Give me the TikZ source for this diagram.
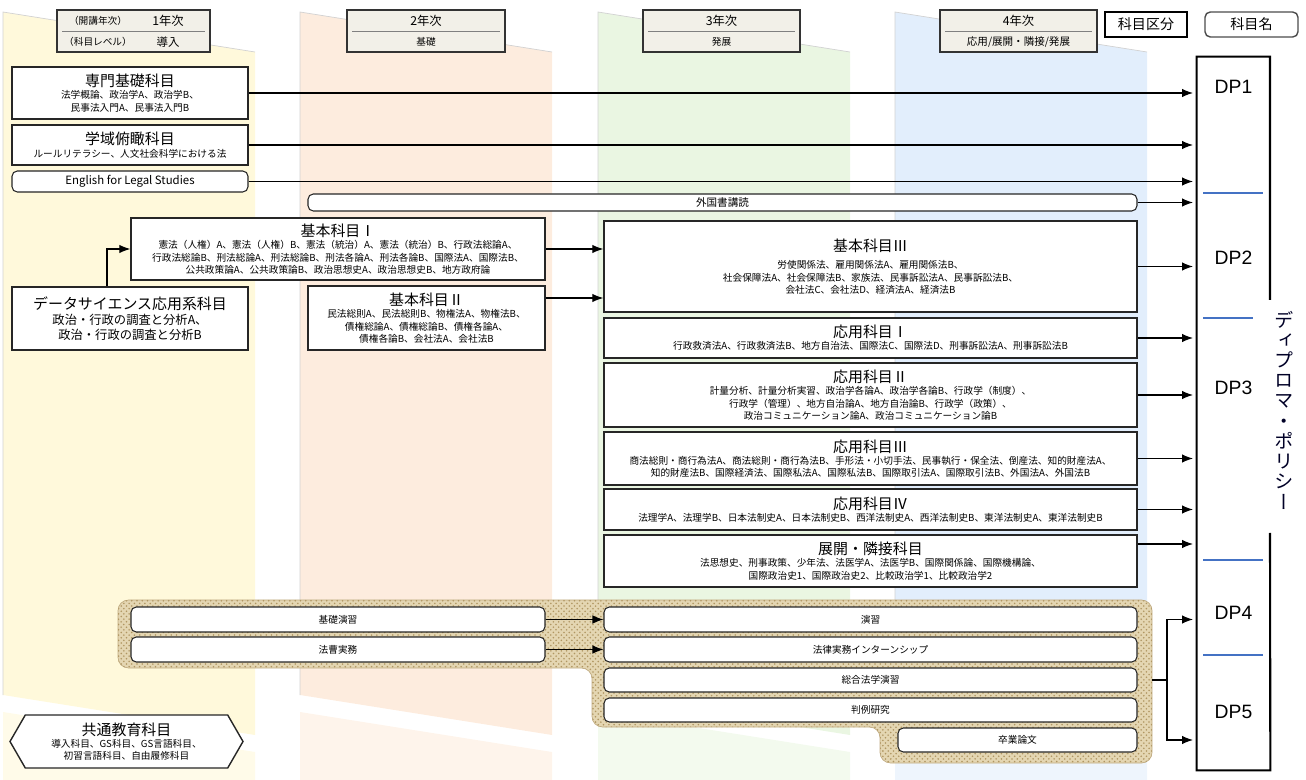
\documentclass[tikz,border=0pt]{standalone}
\usepackage{fontspec}
\setmainfont{Noto Sans CJK JP}
\newfontfamily\dpfont{Liberation Sans}
\newfontfamily\vjp[RawFeature=+vert]{Noto Sans CJK JP}
\usetikzlibrary{positioning,shapes.symbols,patterns,arrows.meta}

\newlength\px
\setlength\px{0.02cm}
\newcommand{\ttl}[1]{{\fontsize{8.5}{9}\selectfont #1}}

\definecolor{bandY}{RGB}{255,249,219}
\definecolor{bandO}{RGB}{253,236,222}
\definecolor{bandG}{RGB}{234,246,226}
\definecolor{bandB}{RGB}{226,238,252}
\definecolor{headfill}{RGB}{242,240,232}
\definecolor{dpblue}{RGB}{68,114,196}
\definecolor{hatchbg}{RGB}{228,214,178}
\definecolor{hatchfg}{RGB}{176,150,98}

\tikzset{
	subj/.style = {draw = black!85, thick, fill = white, align = center, inner sep = 1pt,
		font = \fontsize{5.5}{7}\selectfont},
	subjr/.style = {subj, semithick, rounded corners = 3pt},
	head/.style = {draw = black!80, thick, fill = headfill},
	headtxt/.style = {font = \fontsize{5.5}{6}\selectfont},
	arr/.style = {-{Latex[length = 2.2mm, width = 1.7mm]}, semithick},
	dp/.style = {font = \dpfont\fontsize{11}{11}\selectfont},
	sep/.style = {dpblue, line width = 1.6pt},
	band/.style = {draw = gray!35, thin},
}

\begin{document}
\begin{tikzpicture}[x = 0.02cm, y = -0.02cm]
\useasboundingbox (0,0) rectangle (1306,780);

% year columns
\foreach \x/\col in {3/bandY, 300/bandO, 598/bandG, 895/bandB}
{
	\fill[\col] (\x,12) -- (\x+252,52) -- (\x+252,735) -- (\x,695) -- cycle;
	\fill[\col!60] (\x,712) -- (\x+252,752) -- (\x+252,780) -- (\x,780) -- cycle;
	\draw[band] (\x,695) -- (\x,12) -- (\x+252,52);
}

% headers
\node[head, minimum width = 153*\px, minimum height = 42*\px] (year1) at (133.5,31) {};
\draw[gray] ([xshift = 6*\px]year1.west) -- ([xshift = -6*\px]year1.east);
\node[headtxt] (lbl1a) at (98,21) {（開講年次）};
\node[headtxt, font = \fontsize{7}{7}\selectfont] (lbl1b) at (168,21) {1年次};
\node[headtxt] (lbl1c) at (98,42) {（科目レベル）};
\node[headtxt, font = \fontsize{6.5}{7}\selectfont] (lbl1d) at (168,42) {導入};

\node[head, minimum width = 158*\px, minimum height = 42*\px] (year2) at (426,31) {};
\draw[gray] ([xshift = 6*\px]year2.west) -- ([xshift = -6*\px]year2.east);
\node[headtxt, font = \fontsize{7}{7}\selectfont] (lbl2a) at (426,21) {2年次};
\node[headtxt] (lbl2b) at (426,42) {基礎};

\node[head, minimum width = 157*\px, minimum height = 42*\px] (year3) at (721.5,31) {};
\draw[gray] ([xshift = 6*\px]year3.west) -- ([xshift = -6*\px]year3.east);
\node[headtxt, font = \fontsize{7}{7}\selectfont] (lbl3a) at (721.5,21) {3年次};
\node[headtxt] (lbl3b) at (721.5,42) {発展};

\node[head, minimum width = 157*\px, minimum height = 42*\px] (year4) at (1018.5,31) {};
\draw[gray] ([xshift = 6*\px]year4.west) -- ([xshift = -6*\px]year4.east);
\node[headtxt, font = \fontsize{7}{7}\selectfont] (lbl4a) at (1018.5,21) {4年次};
\node[headtxt, font = \fontsize{6}{6}\selectfont] (lbl4b) at (1018.5,42) {応用/展開・隣接/発展};

\node[draw, thick, minimum width = 82*\px, minimum height = 25*\px, font = \fontsize{8}{8}\selectfont] (kubun) at (1146,24.5) {科目区分};
\node[draw = black!70, thick, rounded corners = 3pt, minimum width = 93*\px, minimum height = 25*\px, font = \fontsize{8}{8}\selectfont] (kamoku) at (1251.5,24.5) {科目名};

% seminar group
\filldraw[fill = hatchbg, draw = hatchfg!80, rounded corners = 6pt,
	postaction = {pattern = crosshatch dots, pattern color = hatchfg}]
	(118,600) -- (1152,600) -- (1152,763) -- (880,763) -- (880,727) -- (592,727) -- (592,668) -- (118,668) -- cycle;

% subjects
\node[subj, minimum width = 236*\px, minimum height = 52*\px] (senmon) at (130,93)
	{\ttl{専門基礎科目}\\ 法学概論、政治学A、政治学B、\\ 民事法入門A、民事法入門B};
\node[subj, minimum width = 236*\px, minimum height = 40*\px] (gakuiki) at (130,145)
	{\ttl{学域俯瞰科目}\\ ルールリテラシー、人文社会科学における法};
\node[subjr, minimum width = 236*\px, minimum height = 21*\px, font = \fontsize{6.5}{7}\selectfont] (english) at (130,181.5)
	{English for Legal Studies};
\node[subjr, minimum width = 829*\px, minimum height = 17*\px, font = \fontsize{6}{7}\selectfont] (gaikoku) at (722.5,202.5)
	{外国書講読};
\node[subj, minimum width = 414*\px, minimum height = 62*\px] (kihon1) at (338,249)
	{\ttl{基本科目Ⅰ}\\ 憲法（人権）A、憲法（人権）B、憲法（統治）A、憲法（統治）B、行政法総論A、\\
	行政法総論B、刑法総論A、刑法総論B、刑法各論A、刑法各論B、国際法A、国際法B、\\
	公共政策論A、公共政策論B、政治思想史A、政治思想史B、地方政府論};
\node[subj, minimum width = 236*\px, minimum height = 63*\px, font = \fontsize{7}{8.5}\selectfont] (datasci) at (130,318.5)
	{\ttl{データサイエンス応用系科目}\\ 政治・行政の調査と分析A、\\ 政治・行政の調査と分析B};
\node[subj, minimum width = 237*\px, minimum height = 64*\px] (kihon2) at (426.5,318)
	{\ttl{基本科目Ⅱ}\\ 民法総則A、民法総則B、物権法A、物権法B、\\ 債権総論A、債権総論B、債権各論A、\\ 債権各論B、会社法A、会社法B};
\node[subj, minimum width = 533*\px, minimum height = 91*\px] (kihon3) at (870.5,266.5)
	{\ttl{基本科目Ⅲ}\\[3pt] 労使関係法、雇用関係法A、雇用関係法B、\\
	社会保障法A、社会保障法B、家族法、民事訴訟法A、民事訴訟法B、\\ 会社法C、会社法D、経済法A、経済法B};
\node[subj, minimum width = 533*\px, minimum height = 40*\px] (ouyou1) at (870.5,338)
	{\ttl{応用科目Ⅰ}\\ 行政救済法A、行政救済法B、地方自治法、国際法C、国際法D、刑事訴訟法A、刑事訴訟法B};
\node[subj, minimum width = 533*\px, minimum height = 64*\px] (ouyou2) at (870.5,395)
	{\ttl{応用科目Ⅱ}\\ 計量分析、計量分析実習、政治学各論A、政治学各論B、行政学（制度）、\\
	行政学（管理）、地方自治論A、地方自治論B、行政学（政策）、\\ 政治コミュニケーション論A、政治コミュニケーション論B};
\node[subj, minimum width = 533*\px, minimum height = 53*\px] (ouyou3) at (870.5,458.5)
	{\ttl{応用科目Ⅲ}\\ 商法総則・商行為法A、商法総則・商行為法B、手形法・小切手法、民事執行・保全法、倒産法、知的財産法A、\\
	知的財産法B、国際経済法、国際私法A、国際私法B、国際取引法A、国際取引法B、外国法A、外国法B};
\node[subj, minimum width = 533*\px, minimum height = 41*\px] (ouyou4) at (870.5,509.5)
	{\ttl{応用科目Ⅳ}\\ 法理学A、法理学B、日本法制史A、日本法制史B、西洋法制史A、西洋法制史B、東洋法制史A、東洋法制史B};
\node[subj, minimum width = 533*\px, minimum height = 52*\px] (tenkai) at (870.5,561)
	{\ttl{展開・隣接科目}\\ 法思想史、刑事政策、少年法、法医学A、法医学B、国際関係論、国際機構論、\\
	国際政治史1、国際政治史2、比較政治学1、比較政治学2};

\node[subjr, minimum width = 414*\px, minimum height = 25*\px] (kiso) at (338,619.5) {基礎演習};
\node[subjr, minimum width = 414*\px, minimum height = 25*\px] (hosou) at (338,649.5) {法曹実務};
\node[subjr, minimum width = 533*\px, minimum height = 25*\px] (enshu) at (870.5,619.5) {演習};
\node[subjr, minimum width = 533*\px, minimum height = 25*\px] (intern) at (870.5,649.5) {法律実務インターンシップ};
\node[subjr, minimum width = 533*\px, minimum height = 24*\px] (sougou) at (870.5,680) {総合法学演習};
\node[subjr, minimum width = 533*\px, minimum height = 24*\px] (hanrei) at (870.5,710) {判例研究};
\node[subjr, minimum width = 239*\px, minimum height = 24*\px] (sotsuron) at (1017.5,740) {卒業論文};

\node[subj, signal, signal to = east and west, signal pointer angle = 120,
	minimum width = 233*\px, minimum height = 53*\px] (kyoutsu) at (126.5,741.5)
	{\ttl{共通教育科目}\\ 導入科目、GS科目、GS言語科目、\\ 初習言語科目、自由履修科目};

% diploma policy
\node[minimum width = 73*\px, minimum height = 713*\px] (dpbar) at (1233.5,413.5) {};
\coordinate (gaptop) at (1270,300);
\coordinate (gapbot) at (1270,533);
\draw[line width = 1.2pt] (gaptop) |- (dpbar.north west) |- (dpbar.south east) -- (gapbot);
\draw[sep] (1203,193) -- (1263,193);
\draw[sep] (1203,318) -- (1253,318);
\draw[sep] (1203,560) -- (1263,560);
\draw[sep] (1203,655) -- (1263,655);
\node[dp] (dp1) at (1233.5,87) {DP1};
\node[dp] (dp2) at (1233.5,258) {DP2};
\node[dp] (dp3) at (1233.5,388) {DP3};
\node[dp] (dp4) at (1233.5,613) {DP4};
\node[dp] (dp5) at (1233.5,712) {DP5};
\node[font = \vjp\fontsize{11}{11.5}\selectfont, text = black!85!blue, align = center, inner sep = 0pt] (dpvert) at (1284,410)
	{デ\\ィ\\プ\\ロ\\マ\\・\\ポ\\リ\\シ\\ー};

% arrows
\coordinate (dpin) at (1193,0);
\coordinate (k2out) at ([yshift = 20*\px]kihon2.east);
\coordinate (tkout) at ([yshift = 17*\px]tenkai.east);
\coordinate (hatchR) at (1152,680);
\coordinate (brk) at (1167,680);

\foreach \n in {senmon, gakuiki, english, gaikoku, kihon3, ouyou1, ouyou2, ouyou3, ouyou4}
{
	\draw[arr] (\n) -- (\n -| dpin);
}
\draw[arr] (tkout) -- (tkout -| dpin);
\draw[arr] ([xshift = -23*\px]datasci.north) |- (kihon1);
\draw[arr] (kihon1) -- (kihon1 -| kihon3.west);
\draw[arr] (k2out) -- (k2out -| kihon3.west);
\draw[arr] (kiso) -- (enshu);
\draw[arr] (hosou) -- (intern);
\draw[semithick] (hatchR) -- (brk);
\draw[arr] (brk) |- (enshu -| dpin);
\draw[arr] (brk) |- (sotsuron -| dpin);
\end{tikzpicture}
\end{document}
